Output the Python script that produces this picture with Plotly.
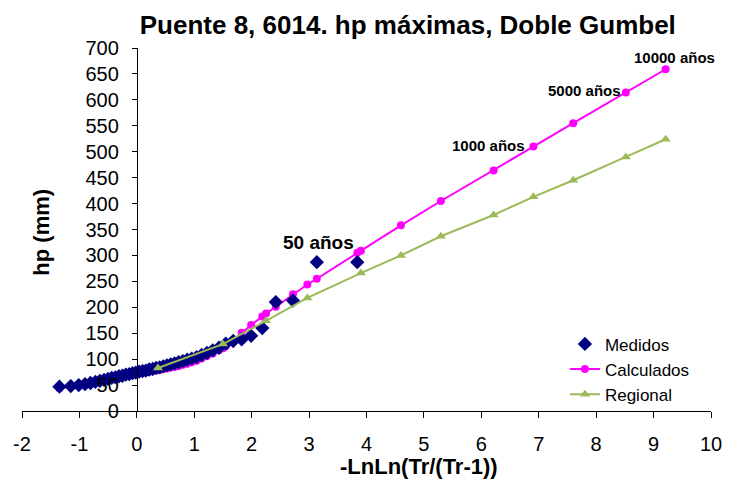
import plotly.graph_objects as go

# -LnLn(Tr/(Tr-1)) de los datos medidos (posiciones de graficacion)
medidos_x = [3.839, 3.135, 2.719, 2.420, 2.185, 1.991, 1.825, 1.679, 1.549, 1.430,
             1.322, 1.221, 1.128, 1.040, 0.956, 0.877, 0.801, 0.728, 0.658, 0.590,
             0.524, 0.460, 0.397, 0.336, 0.276, 0.216, 0.157, 0.099, 0.041, -0.017,
             -0.075, -0.133, -0.192, -0.251, -0.311, -0.373, -0.437, -0.503, -0.571, -0.644,
             -0.722, -0.807, -0.902, -1.012, -1.150, -1.348]
medidos_hp = [287, 287, 213, 210, 160, 145, 138, 135, 130, 122,
              117, 112, 108, 104, 101, 99, 96, 94, 92, 90,
              88, 86, 84, 83, 81, 80, 78, 77, 76, 74,
              73, 71, 70, 68, 67, 65, 64, 62, 60, 58,
              56, 54, 52, 50, 48, 47]

calc_x = [-1.348, -1.150, -1.012, -0.902, -0.807, -0.722, -0.644, -0.571, -0.503, -0.437,
          -0.373, -0.311, -0.251, -0.192, -0.133, -0.075, -0.017, 0.041, 0.099, 0.157,
          0.216, 0.276, 0.336, 0.367, 0.397, 0.460, 0.524, 0.590, 0.658, 0.728,
          0.801, 0.877, 0.956, 1.040, 1.128, 1.221, 1.322, 1.430, 1.500, 1.549,
          1.679, 1.825, 1.991, 2.185, 2.250, 2.420, 2.719, 2.970, 3.135, 3.839,
          3.902, 4.600, 5.296, 6.214, 6.907, 7.600, 8.517, 9.210]
calc_hp = [44, 47, 49, 51, 54, 56, 58, 60, 61, 63,
           64, 65, 67, 68, 69, 71, 72, 73, 74, 75,
           76, 77, 78, 79, 79, 81, 82, 84, 85, 87,
           89, 91, 94, 97, 101, 106, 111, 117, 121, 125,
           137, 151, 166, 182, 188, 201, 225, 244, 255, 305,
           309, 358, 405, 464, 510, 555, 614, 659]

# Tr = 2, 5, 10, 20, 50, 100, 200, 500, 1000, 2000, 5000, 10000
reg_x = [0.367, 1.500, 2.250, 2.970, 3.902, 4.600, 5.296, 6.214, 6.907, 7.600, 8.517, 9.210]
reg_hp = [83, 129, 174, 218, 266, 300, 337, 378, 413, 445, 490, 524]

x_ticks = [-2, -1, 0, 1, 2, 3, 4, 5, 6, 7, 8, 9, 10]
x_ticktext = ["-2", "-1", "0", "1", "2", "3", "4", "5", "6", "7", "8", "9", "10"]

etiquetas = {"50 años": 50, "1000 años": 54, "5000 años": 56, "10000 años": 57}

fig = go.Figure()
fig.add_trace(go.Scatter(
    name="Calculados", x=calc_x, y=calc_hp, mode='lines+markers',
    line=dict(color='#FF00FF', width=2),
    marker=dict(symbol='circle', size=8, color='#FF00FF'),
    legendrank=2
))
fig.add_trace(go.Scatter(
    name="Medidos", x=medidos_x, y=medidos_hp, mode='markers',
    marker=dict(symbol='diamond', size=11, color='#000080'),
    legendrank=1
))
fig.add_trace(go.Scatter(
    name="Regional", x=reg_x, y=reg_hp, mode='lines+markers',
    line=dict(color='#9BBB59', width=2),
    marker=dict(symbol='triangle-up', size=9, color='#9BBB59'),
    legendrank=3
))

fnt = "Liberation Sans, Arial, sans-serif"

ann = []
i = etiquetas["50 años"]
ann.append(dict(x=calc_x[i], y=calc_hp[i], text="<b>50 años</b>", showarrow=False,
                xanchor='right', yanchor='middle', xshift=-5, yshift=8,
                font=dict(family=fnt, size=19, color='black')))
i = etiquetas["1000 años"]
ann.append(dict(x=calc_x[i], y=calc_hp[i], text="<b>1000 años</b>", showarrow=False,
                xanchor='right', yanchor='middle', xshift=-6, yshift=1,
                font=dict(family=fnt, size=15, color='black')))
i = etiquetas["5000 años"]
ann.append(dict(x=calc_x[i], y=calc_hp[i], text="<b>5000 años</b>", showarrow=False,
                xanchor='right', yanchor='middle', xshift=-3, yshift=2,
                font=dict(family=fnt, size=15, color='black')))
i = etiquetas["10000 años"]
ann.append(dict(x=calc_x[i], y=calc_hp[i], text="<b>10000 años</b>", showarrow=False,
                xanchor='center', yanchor='middle', xshift=9, yshift=12,
                font=dict(family=fnt, size=15, color='black')))
ann.append(dict(xref='paper', yref='paper', x=0.576, y=-0.154, text="<b>-LnLn(Tr/(Tr-1))</b>",
                showarrow=False, xanchor='center', yanchor='middle',
                font=dict(family=fnt, size=22, color='black')))
ann.append(dict(xref='paper', yref='paper', x=0.027, y=0.493, text="<b>hp (mm)</b>",
                showarrow=False, xanchor='center', yanchor='middle', textangle=-90,
                font=dict(family=fnt, size=22, color='black')))

# la pagina deja 8 px de margen en el body: los margenes lo compensan
fig.update_layout(
    width=739, height=488,
    title=dict(text="<b>Puente 8, 6014. hp máximas, Doble Gumbel</b>", x=0.541, y=0.966,
               xanchor='center', yanchor='middle',
               font=dict(family=fnt, size=26, color='black')),
    margin=dict(l=14, r=36, t=40, b=85, pad=0),
    plot_bgcolor='white', paper_bgcolor='white',
    font=dict(family=fnt, color='black'),
    xaxis=dict(range=[-2, 10], tickvals=x_ticks, ticktext=x_ticktext,
               showgrid=False, zeroline=False, automargin=False,
               showline=True, linecolor='black', linewidth=1,
               ticks='outside', ticklen=6, tickcolor='black',
               ticklabelstandoff=9, tickfont=dict(size=20)),
    yaxis=dict(range=[0, 700], dtick=50, showgrid=False, zeroline=False,
               anchor='free', position=2 / 12, automargin=False,
               showline=True, linecolor='black', linewidth=1,
               ticks='outside', ticklen=5, tickcolor='black',
               ticklabelstandoff=9, tickfont=dict(size=20)),
    legend=dict(x=0.788, y=0.233, xanchor='left', yanchor='top',
                font=dict(size=17), bgcolor='rgba(0,0,0,0)', tracegroupgap=0),
    annotations=ann,
    showlegend=True,
)

fig.write_html("out.html")
